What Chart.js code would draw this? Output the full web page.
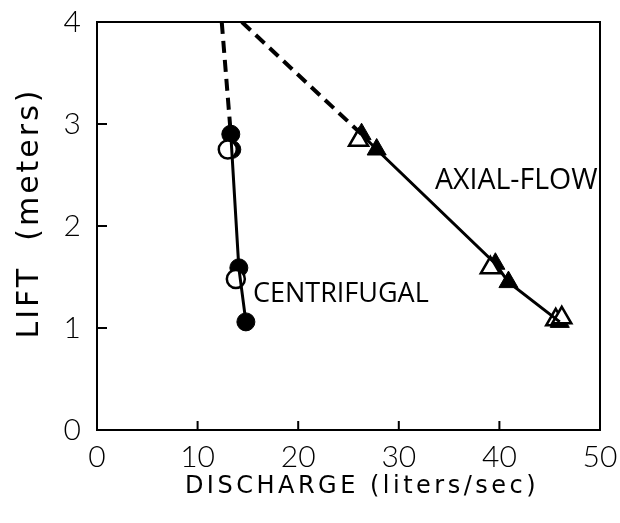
<!DOCTYPE html>
<html>
<head>
<meta charset="utf-8">
<script src="https://cdn.jsdelivr.net/npm/chart.js@4.4.1/dist/chart.umd.min.js"></script>
<style>
  html, body { margin: 0; padding: 0; background: #fff; }
  #wrap { width: 620px; height: 523px; position: relative; }
</style>
</head>
<body>
<div id="wrap"><canvas id="chart"></canvas></div>
<script>
// axis ticks
const xTicks = [0, 10, 20, 30, 40, 50];
const yTicks = [0, 1, 2, 3, 4];

// centrifugal pump: fitted curve (first segment dashed) + measured points
const centLineX = [12.4, 13.3, 14.1, 14.8];
const centLineY = [4.0, 2.9, 1.59, 1.06];
const centFilledX = [13.3, 13.4, 14.1, 14.8];
const centFilledY = [2.9, 2.75, 1.59, 1.06];
const centOpenX = [13.0, 13.8];
const centOpenY = [2.75, 1.48];

// axial-flow pump
const axialLineX = [14.4, 26.3, 27.8, 39.6, 40.9, 46.0];
const axialLineY = [4.0, 2.9, 2.75, 1.63, 1.45, 1.06];
const axialFilledX = [26.3, 27.8, 39.6, 40.9, 46.0];
const axialFilledY = [2.9, 2.75, 1.63, 1.45, 1.06];
const axialOpenX = [26.0, 39.1, 45.6, 46.2];
const axialOpenY = [2.84, 1.59, 1.08, 1.1];

const FONT = '"Open Sans", "DejaVu Sans", sans-serif';
const TICKFONT = 'Lato, "Open Sans", sans-serif';
const TITLEFONT = '"DejaVu Sans", sans-serif';
const zip = (xs, ys) => xs.map((x, i) => ({ x, y: ys[i] }));

// inward tick marks + frame
const framePlugin = {
  id: 'frame',
  afterDraw(chart) {
    const { ctx, chartArea: a, scales: { x, y } } = chart;
    ctx.save();
    ctx.strokeStyle = '#000';
    ctx.lineWidth = 2;
    ctx.strokeRect(a.left, a.top, a.right - a.left, a.bottom - a.top);
    ctx.beginPath();
    xTicks.slice(1, -1).forEach(v => {
      const px = x.getPixelForValue(v);
      ctx.moveTo(px, a.bottom);
      ctx.lineTo(px, a.bottom - 9);
    });
    yTicks.slice(1, -1).forEach(v => {
      const py = y.getPixelForValue(v);
      ctx.moveTo(a.left, py);
      ctx.lineTo(a.left + 10, py);
    });
    ctx.stroke();
    ctx.restore();
  }
};

// curve labels and spaced-out axis titles
const labelPlugin = {
  id: 'curveLabels',
  afterDraw(chart) {
    const { ctx, chartArea: a, scales: { x, y } } = chart;
    ctx.save();
    ctx.fillStyle = '#000';
    ctx.textBaseline = 'middle';
    ctx.textAlign = 'left';
    ctx.font = '27px ' + FONT;
    ctx.fillText('CENTRIFUGAL', x.getPixelForValue(15.5), y.getPixelForValue(1.33));
    ctx.font = '28.5px ' + FONT;
    ctx.fillText('AXIAL-FLOW', x.getPixelForValue(33.6), y.getPixelForValue(2.44));

    ctx.textAlign = 'center';
    ctx.letterSpacing = '3.5px';
    ctx.font = '24px ' + TITLEFONT;
    ctx.fillText('DISCHARGE (liters/sec)', 362, a.bottom + 57);
    ctx.translate(30, 213);
    ctx.rotate(-Math.PI / 2);
    ctx.letterSpacing = '3px';
    ctx.font = '30px ' + TITLEFONT;
    ctx.fillText('LIFT  (meters)', 0, 0);
    ctx.restore();
  }
};

const dashFirst = ctx => ctx.p0DataIndex === 0 ? [12, 7] : undefined;
const widthFirst = ctx => ctx.p0DataIndex === 0 ? 4 : 3;
const noPad = s => { s.paddingTop = 0; s.paddingBottom = 0; s.paddingLeft = 0; s.paddingRight = 0; };

new Chart(document.getElementById('chart'), {
  type: 'scatter',
  data: {
    datasets: [
      {
        data: zip(centLineX, centLineY),
        showLine: true,
        borderColor: '#000',
        borderWidth: 3,
        pointRadius: 0,
        segment: { borderDash: dashFirst, borderWidth: widthFirst },
      },
      {
        data: zip(axialLineX, axialLineY),
        showLine: true,
        borderColor: '#000',
        borderWidth: 3,
        pointRadius: 0,
        segment: { borderDash: dashFirst, borderWidth: widthFirst },
      },
      {
        data: zip(centOpenX, centOpenY),
        pointStyle: 'circle',
        pointRadius: 9,
        backgroundColor: '#fff',
        borderColor: '#000',
        borderWidth: 2.5,
      },
      {
        data: zip(centFilledX, centFilledY),
        pointStyle: 'circle',
        pointRadius: 9,
        backgroundColor: '#000',
        borderColor: '#000',
        borderWidth: 1,
      },
      {
        data: zip(axialOpenX, axialOpenY),
        pointStyle: 'triangle',
        pointRadius: 11,
        backgroundColor: '#fff',
        borderColor: '#000',
        borderWidth: 2.5,
      },
      {
        data: zip(axialFilledX, axialFilledY),
        pointStyle: 'triangle',
        pointRadius: 11,
        backgroundColor: '#000',
        borderColor: '#000',
        borderWidth: 1,
      },
    ],
  },
  options: {
    responsive: true,
    maintainAspectRatio: false,
    animation: false,
    layout: { padding: { top: 22, right: 20, left: 0, bottom: 0 } },
    plugins: { legend: { display: false }, tooltip: { enabled: false } },
    scales: {
      x: {
        type: 'linear',
        min: 0,
        max: 50,
        afterBuildTicks: s => { s.ticks = xTicks.map(v => ({ value: v })); },
        afterFit: s => { s.height = 93; noPad(s); },
        grid: { display: false, drawTicks: false },
        border: { display: false },
        ticks: { color: '#000', font: { family: TICKFONT, size: 30, weight: 300 }, padding: 9 },
        title: { display: false },
      },
      y: {
        type: 'linear',
        min: 0,
        max: 4,
        afterBuildTicks: s => { s.ticks = yTicks.map(v => ({ value: v })); },
        afterFit: s => { s.width = 97; noPad(s); },
        grid: { display: false, drawTicks: false },
        border: { display: false },
        ticks: { color: '#000', font: { family: TICKFONT, size: 30, weight: 300 }, padding: 16 },
        title: { display: false },
      },
    },
  },
  plugins: [framePlugin, labelPlugin],
});
</script>
</body>
</html>
